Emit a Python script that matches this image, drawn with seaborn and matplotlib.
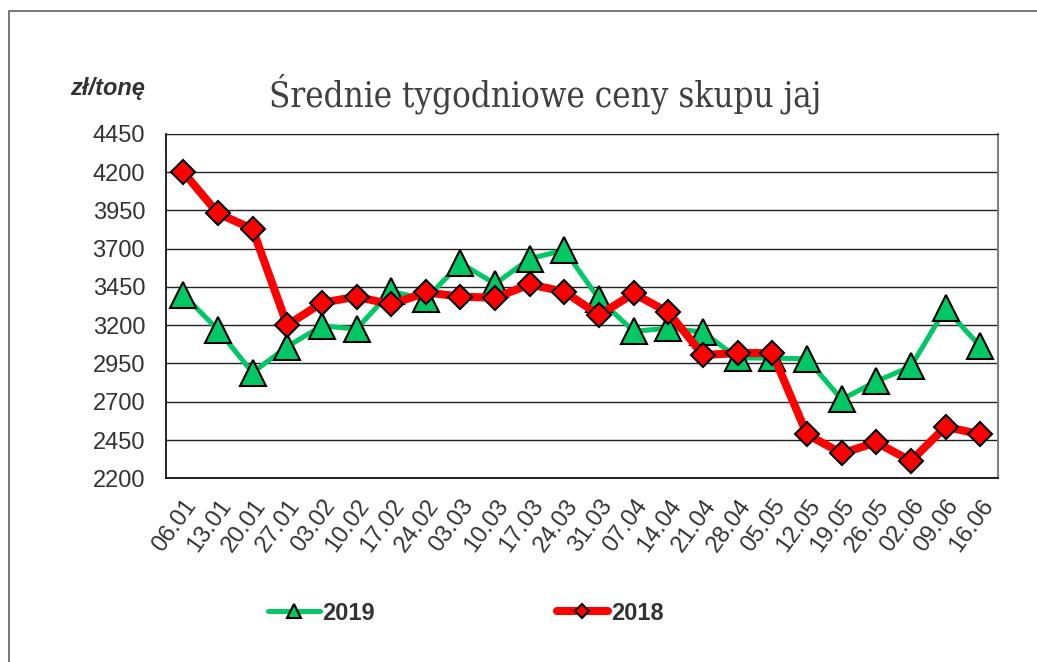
import numpy as np
import pandas as pd
import seaborn as sns
import matplotlib.pyplot as plt
from matplotlib.lines import Line2D
from matplotlib.patches import Rectangle

weeks = ['06.01', '13.01', '20.01', '27.01', '03.02', '10.02', '17.02', '24.02',
         '03.03', '10.03', '17.03', '24.03', '31.03', '07.04', '14.04', '21.04',
         '28.04', '05.05', '12.05', '19.05', '26.05', '02.06', '09.06', '16.06']
prices_2019 = [3400, 3170, 2890, 3060, 3195, 3175, 3420, 3370, 3605, 3470, 3634, 3690,
               3370, 3160, 3180, 3155, 2985, 2985, 2980, 2715, 2833, 2931, 3309, 3061]
prices_2018 = [4200, 3930, 3828, 3200, 3346, 3386, 3335, 3414, 3386, 3379, 3466, 3418,
               3266, 3407, 3283, 3005, 3018, 3018, 2487, 2363, 2434, 2313, 2537, 2487]

green = '#00C864'
red = '#FF0000'
txt = '#333333'

df = pd.DataFrame({'pos': np.arange(len(weeks)), 'week': weeks,
                   '2019': prices_2019, '2018': prices_2018})

sns.set_style('white')
plt.rcParams['font.family'] = ['Liberation Sans', 'DejaVu Sans']

fig = plt.figure(figsize=(10.37, 6.62), dpi=100)
ax = fig.add_axes([0.160, 0.2775, 0.802, 0.5205])

sns.lineplot(data=df, x='pos', y='2019', ax=ax, color=green, lw=3.6,
             marker='^', markersize=19, markeredgecolor='black',
             markeredgewidth=1.5, zorder=3)
sns.lineplot(data=df, x='pos', y='2018', ax=ax, color=red, lw=5.8,
             marker='D', markersize=12.5, markeredgecolor='black',
             markeredgewidth=1.5, zorder=4)

ax.set_xlim(-0.5, len(weeks) - 0.5)
ax.set_ylim(2200, 4450)
ax.set_yticks(np.arange(2200, 4451, 250))
ax.yaxis.grid(True, color='#222222', lw=1.0)
ax.set_axisbelow(True)

ax.set_xticks(df['pos'])
ax.set_xticklabels(weeks, rotation=54, ha='right', rotation_mode='anchor',
                   fontsize=17, color=txt)
ax.set_xticks(np.arange(-0.5, len(weeks), 1), minor=True)
ax.tick_params(axis='x', which='major', length=0, pad=12)
ax.tick_params(axis='x', which='minor', length=7, width=1, color='#333333')
ax.tick_params(axis='y', length=6, width=1, color='#333333', labelsize=17,
               labelcolor=txt, pad=9)
ax.set_xlabel('')
ax.set_ylabel('')

for side in ['left', 'bottom']:
    ax.spines[side].set_color('black')
    ax.spines[side].set_linewidth(1.2)
ax.spines['top'].set_color('#222222')
ax.spines['right'].set_color('#808080')
ax.spines['right'].set_linewidth(1.5)

fig.text(0.526, 0.858, 'Średnie tygodniowe ceny skupu jaj', ha='center',
         va='center', fontsize=25, color='#404040', family='DejaVu Serif',
         fontstretch='condensed')
fig.text(0.104, 0.866, 'zł/tonę', ha='center', va='center', fontsize=17,
         fontweight='bold', fontstyle='italic', color=txt)

handles = [Line2D([], [], color=green, lw=3.6, marker='^', markersize=10,
                  markeredgecolor='black', markeredgewidth=1.5),
           Line2D([], [], color=red, lw=5.8, marker='D', markersize=7,
                  markeredgecolor='black', markeredgewidth=1.5)]
leg = fig.legend(handles, ['2019', '2018'], loc='center', ncol=2,
                 bbox_to_anchor=(0.449, 0.074), frameon=False, handlelength=2.2,
                 handletextpad=0.1, columnspacing=7.7,
                 prop={'size': 17, 'weight': 'bold'})
for t in leg.get_texts():
    t.set_color(txt)

fig.patches.append(Rectangle((9 / 1037, -0.1), 1.2, 1 - 11 / 662 + 0.1,
                             transform=fig.transFigure, fill=False,
                             edgecolor='#606060', lw=1.2))

fig.savefig('out.png', dpi=100)
